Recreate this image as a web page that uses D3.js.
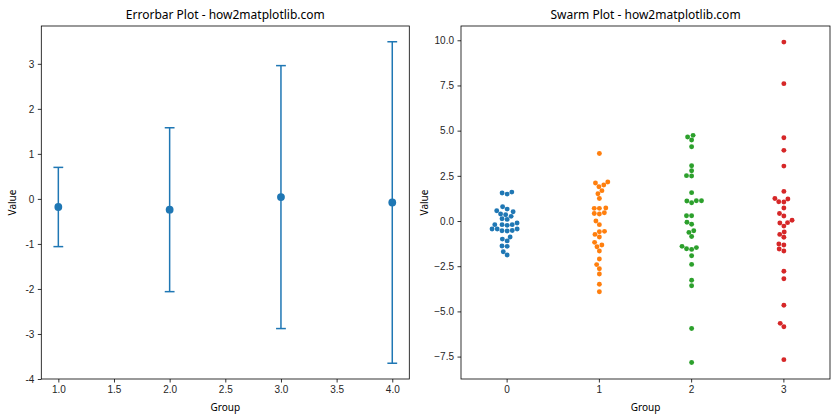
<!DOCTYPE html>
<html><head><meta charset="utf-8">
<script src="https://cdn.jsdelivr.net/npm/d3@7"></script>
<style>
body{margin:0;background:#fff;}
svg{display:block;font-family:"Noto Sans","Open Sans",sans-serif;}
</style></head>
<body>
<svg id="chart" width="840" height="420"></svg>
<script>
// ---------- data ----------
const errGroups = [1, 2, 3, 4];
const errMeans = [-0.18, -0.24, 0.04, -0.08];
const errStd = [0.88, 1.82, 2.92, 3.57];
const errXTicks = [1.0, 1.5, 2.0, 2.5, 3.0, 3.5, 4.0];
const errYTicks = [-4, -3, -2, -1, 0, 1, 2, 3];

const swarmCategories = ["0", "1", "2", "3"];
const swarmColors = ["#1f77b4", "#ff7f0e", "#2ca02c", "#d62728"];
const group0 = [1.55, 1.49, 1.60, 0.79, 0.66, 0.57, 0.51, 0.35, 0.39, 0.26, 0.13, 0.09,
  -0.20, -0.20, -0.24, -0.20, -0.11, -0.44, -0.44, -0.54, -0.55, -0.52, -0.44,
  -0.88, -1.00, -1.10, -1.38, -1.40, -1.70, -1.88];
const group1 = [3.74, 2.10, 2.16, 1.99, 1.90, 1.68, 1.51, 1.25, 0.70, 0.70, 0.72,
  0.42, 0.39, 0.46, 0.00, -0.20, -0.59, -0.57, -0.74, -0.88, -1.18, -1.33, -1.42,
  -1.66, -2.10, -2.41, -2.64, -2.93, -3.50, -3.91];
const group2 = [4.65, 4.74, 4.48, 4.11, 3.06, 2.78, 2.51, 2.49, 1.57, 1.11, 1.01, 1.12, 1.12,
  0.29, 0.29, -0.07, -0.18, -0.54, -0.63, -0.86, -1.40, -1.53, -1.57, -1.47,
  -1.92, -2.40, -3.28, -3.58, -5.95, -7.83];
const group3 = [9.90, 7.60, 4.61, 3.91, 3.04, 1.64, 1.25, 1.07, 1.05, 1.22, 0.72, 0.42, 0.28,
  -0.11, -0.28, -0.09, 0.04, -0.61, -0.74, -0.90, -1.33, -1.27, -1.55, -1.66,
  -2.78, -3.19, -4.66, -5.66, -5.85, -7.67];
const swarmValues = [group0, group1, group2, group3];
const swarmYTicks = [-7.5, -5.0, -2.5, 0.0, 2.5, 5.0, 7.5, 10.0];

// ---------- layout ----------
const svg = d3.select("#chart");
const TXT = "#262626";
const fs = 10;

function styleAxis(g){
  g.select(".domain").remove();
  g.selectAll(".tick line").attr("stroke","#000").attr("stroke-width",0.8);
  g.selectAll(".tick text").attr("fill",TXT).style("font-size",fs+"px");
}

function frame(L,R,T,B,title){
  svg.append("rect").attr("x",L).attr("y",T).attr("width",R-L).attr("height",B-T)
    .attr("fill","none").attr("stroke","#000").attr("stroke-width",0.8);
  svg.append("text").attr("x",(L+R)/2).attr("y",T-7).attr("text-anchor","middle")
    .attr("fill","#000").style("font-size","12px").text(title);
  svg.append("text").attr("x",(L+R)/2).attr("y",411).attr("text-anchor","middle")
    .attr("fill","#000").style("font-size",fs+"px").text("Group");
}

// ---------- left: errorbar ----------
{
  const L=41.3,R=409.3,T=26,B=379;
  const x = d3.scaleLinear().domain([0.847,4.153]).range([L,R]);
  const y = d3.scaleLinear().domain([-4,3.84]).range([B,T]);
  frame(L,R,T,B,"Errorbar Plot - how2matplotlib.com");
  svg.append("g").attr("transform",`translate(0,${B})`)
    .call(d3.axisBottom(x).tickValues(errXTicks).tickFormat(d3.format(".1f")).tickSize(3.5).tickPadding(3.5))
    .call(styleAxis);
  svg.append("g").attr("transform",`translate(${L},0)`)
    .call(d3.axisLeft(y).tickValues(errYTicks).tickFormat(d=>String(d)).tickSize(3.5).tickPadding(3.5))
    .call(styleAxis);
  svg.append("text").attr("transform",`translate(16,${(T+B)/2}) rotate(-90)`)
    .attr("text-anchor","middle").attr("fill","#000").style("font-size",fs+"px").text("Value");
  const c="#1f77b4", cap=4.9;
  const g = svg.append("g");
  errGroups.forEach((gx,i)=>{
    const xx=x(gx), y1=y(errMeans[i]+errStd[i]), y0=y(errMeans[i]-errStd[i]);
    g.append("line").attr("x1",xx).attr("x2",xx).attr("y1",y1).attr("y2",y0).attr("stroke",c).attr("stroke-width",1.5);
    [y1,y0].forEach(yy=>g.append("line").attr("x1",xx-cap).attr("x2",xx+cap).attr("y1",yy).attr("y2",yy).attr("stroke",c).attr("stroke-width",1.5));
    g.append("circle").attr("cx",xx).attr("cy",y(errMeans[i])).attr("r",3.9).attr("fill",c);
  });
}

// ---------- right: swarm ----------
{
  const L=461,R=830,T=26,B=379;
  const x = d3.scaleBand().domain(swarmCategories).range([L,R]).padding(0);
  const y = d3.scaleLinear().domain([-8.74,10.79]).range([B,T]);
  frame(L,R,T,B,"Swarm Plot - how2matplotlib.com");
  svg.append("g").attr("transform",`translate(0,${B})`)
    .call(d3.axisBottom(x).tickSize(3.5).tickPadding(3.5))
    .call(styleAxis);
  svg.append("g").attr("transform",`translate(${L},0)`)
    .call(d3.axisLeft(y).tickValues(swarmYTicks).tickFormat(d3.format(".1f")).tickSize(3.5).tickPadding(3.5))
    .call(styleAxis);
  svg.append("text").attr("transform",`translate(428,${(T+B)/2}) rotate(-90)`)
    .attr("text-anchor","middle").attr("fill","#000").style("font-size",fs+"px").text("Value");

  const r = 2.45, D = 4.9;
  // seaborn-like beeswarm: place points in order of value, nearest non-overlapping candidate
  function beeswarm(vals){
    const pts = vals.map(v=>({v, py:y(v)})).sort((a,b)=>b.py-a.py);
    const placed=[];
    pts.forEach(p=>{
      const nb=[];
      for(let k=placed.length-1;k>=0;k--){
        const q=placed[k];
        if(Math.abs(p.py-q.py)<D) nb.push(q); else break;
      }
      const cands=[0];
      nb.forEach(q=>{
        const dx=Math.sqrt(Math.max(D*D-(q.py-p.py)**2,0))*1.05;
        cands.push(q.dx-dx,q.dx+dx);
      });
      const order=cands.map((c,i)=>({c,i})).sort((a,b)=>(Math.abs(a.c)-Math.abs(b.c))||(a.i-b.i));
      let chosen=order[0].c;
      for(const o of order){
        if(nb.every(q=>(q.dx-o.c)**2+(q.py-p.py)**2>D*D-1e-6)){chosen=o.c;break;}
      }
      p.dx=chosen; placed.push(p);
    });
    return placed;
  }
  swarmValues.forEach((vals,i)=>{
    const cx = x(swarmCategories[i])+x.bandwidth()/2;
    const pts = beeswarm(vals);
    svg.append("g").selectAll("circle").data(pts).join("circle")
      .attr("cx",d=>cx+d.dx).attr("cy",d=>d.py).attr("r",r).attr("fill",swarmColors[i]);
  });
}
</script>
</body></html>
